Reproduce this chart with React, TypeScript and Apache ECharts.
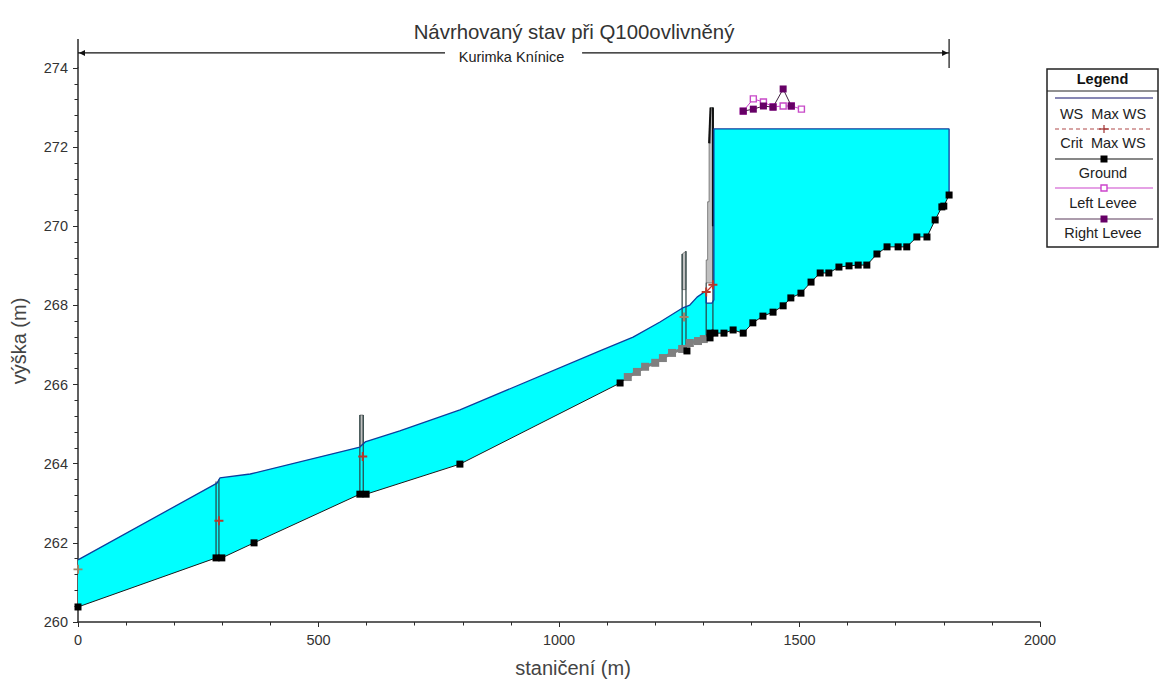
import React, { useEffect, useRef } from "react";
import * as echarts from "echarts";

const titleText = "Návrhovaný stav při Q100ovlivněný";
const reachName = "Kurimka Knínice";
const xAxisName = "staničení (m)";
const yAxisName = "výška (m)";
const legendTitle = "Legend";
const legendNames = ["WS  Max WS", "Crit  Max WS", "Ground", "Left Levee", "Right Levee"];

const groundLower: number[][] = [
  [0, 260.38], [287, 261.62], [299, 261.62], [366, 262.0], [586, 263.23], [599, 263.23], [794, 263.99], [1127, 266.04],
];
const groundGrey: number[][] = [
  [1143, 266.19], [1162, 266.32], [1179, 266.45], [1200, 266.55], [1216, 266.67], [1235, 266.8],
  [1256, 266.9], [1272, 267.05], [1289, 267.1], [1301, 267.15],
];
const groundUpper: number[][] = [
  [1314, 267.18], [1314, 267.3], [1324, 267.3], [1343, 267.3], [1362, 267.38], [1383, 267.3], [1403, 267.56], [1424, 267.73],
  [1445, 267.83], [1466, 267.99], [1482, 268.19], [1503, 268.31], [1524, 268.59], [1543, 268.82],
  [1561, 268.82], [1582, 268.97], [1603, 269.0], [1622, 269.02], [1640, 269.02], [1661, 269.3],
  [1682, 269.48], [1705, 269.48], [1723, 269.48], [1744, 269.73], [1765, 269.73], [1782, 270.16],
  [1796, 270.49], [1800, 270.51], [1811, 270.79],
];
const groundExtra: number[][] = [[1266, 266.85]];
const waterSurface: number[][] = [
  [0, 261.57], [289, 263.51], [295, 263.64], [358, 263.74], [586, 264.42], [597, 264.55], [669, 264.83],
  [794, 265.36], [1085, 266.85], [1154, 267.2], [1210, 267.58], [1256, 267.93], [1272, 268.01],
  [1287, 268.21], [1306, 268.37], [1306, 268.06], [1318, 268.06], [1322, 268.14], [1322, 272.46], [1811, 272.46],
  [1811, 270.79],
];
const critMarks: number[][] = [[293, 262.56], [592, 264.18], [1306, 268.34], [1320, 268.52]];
const critFaded: number[][] = [[0, 261.33], [1260, 267.71]];
const critBridge: number[][] = [[1306, 268.34], [1320, 268.52]];
const leftLevee: number[][] = [
  [1383, 272.91], [1404, 273.22], [1425, 273.14], [1445, 273.02], [1466, 273.04], [1483, 273.04], [1504, 272.96],
];
const rightLevee: number[][] = [
  [1383, 272.91], [1404, 272.96], [1425, 273.04], [1445, 273.01], [1466, 273.47], [1483, 273.04],
];
const bridgeLines: number[][][] = [
  [[287, 261.62], [287, 263.55]], [[293, 261.62], [293, 263.6]],
  [[586, 263.23], [586, 265.23]], [[593, 263.23], [593, 265.23]],
  [[1256, 266.9], [1256, 269.3]], [[1264, 266.9], [1264, 269.37]],
  [[1306, 267.18], [1306, 268.57]], [[1320, 267.3], [1320, 273.0]],
];
const bridgeDarkLines: number[][][] = [[[1320, 270.0], [1320, 273.0]], [[1312, 272.1], [1315, 273.0]]];
const bridgeDecks: number[][][] = [
  [[586, 264.45], [586, 265.23], [593, 265.23], [593, 264.5]],
  [[1256, 268.4], [1256, 269.3], [1264, 269.37], [1264, 268.4]],
  [[1306, 268.57], [1306, 269.15], [1309, 269.15], [1309, 270.62], [1312, 270.62], [1312, 272.1], [1315, 272.1], [1315, 273.0], [1320, 273.0], [1320, 268.57]],
];
const reachLevel = 274.38;
const reachEnds = [0, 1811];
const reachGap = [763, 1048];
const axisTop = 274.73;

const DARK = "#2b2b2b";
const FONT = '"Liberation Sans", Arial, sans-serif';
const WS_COLOR = "#0c3f9e";
const PLUS = "path://M-5,-1.1L-1.1,-1.1L-1.1,-5L1.1,-5L1.1,-1.1L5,-1.1L5,1.1L1.1,1.1L1.1,5L-1.1,5L-1.1,1.1L-5,1.1Z";

function buildLegend() {
  const L = 1047, R = 1158, T = 69, B = 247;
  const x1 = 1055, x2 = 1153, cx = (x1 + x2) / 2;
  const lineY = [98, 129, 159, 188, 219];
  const textY = [114, 143, 173, 203, 233];
  const colors = ["#10106a", "#b04a4a", "#111111", "#cc44cc", "#5a3a5a"];
  const ch: any[] = [
    { type: "rect", shape: { x: L, y: T, width: R - L, height: B - T }, style: { fill: "#fff", stroke: "#222", lineWidth: 1.5 } },
    { type: "line", shape: { x1: L, y1: 91, x2: R, y2: 91 }, style: { stroke: "#222", lineWidth: 1 } },
    { type: "text", style: { text: legendTitle, x: (L + R) / 2, y: 79, align: "center", verticalAlign: "middle", font: `bold 14.5px ${FONT}`, fill: "#111" } },
  ];
  legendNames.forEach((n, i) => {
    ch.push({
      type: "line",
      shape: { x1, y1: lineY[i], x2, y2: lineY[i] },
      style: { stroke: colors[i], lineWidth: 1.2, lineDash: i === 1 ? [4, 3] : undefined },
    });
    ch.push({ type: "text", style: { text: n, x: cx - 1, y: textY[i], align: "center", verticalAlign: "middle", font: `14.5px ${FONT}`, fill: "#222" } });
  });
  ch.push({ type: "line", shape: { x1: cx - 5, y1: 129, x2: cx + 5, y2: 129 }, style: { stroke: "#a03030", lineWidth: 1.2 } });
  ch.push({ type: "line", shape: { x1: cx, y1: 125, x2: cx, y2: 133 }, style: { stroke: "#a03030", lineWidth: 1.2 } });
  ch.push({ type: "rect", shape: { x: cx - 3.5, y: 155.5, width: 7, height: 7 }, style: { fill: "#000" } });
  ch.push({ type: "rect", shape: { x: cx - 3, y: 185, width: 6, height: 6 }, style: { fill: "#fff", stroke: "#cc44cc", lineWidth: 1.4 } });
  ch.push({ type: "rect", shape: { x: cx - 3.5, y: 215.5, width: 7, height: 7 }, style: { fill: "#660066" } });
  return ch;
}

function App() {
  const ref = useRef<HTMLDivElement>(null);
  useEffect(() => {
    document.body.style.margin = "0";
    const chart = echarts.init(ref.current!, undefined, { renderer: "svg" });
    const groundAll = [...groundLower, ...groundGrey, ...groundUpper];
    const poly = (api: any, pts: number[][], style: any) => ({
      type: "polygon",
      shape: { points: pts.map((p) => api.coord(p)) },
      style,
    });
    const seg = (api: any, a: number[], b: number[], style: any) => {
      const p = api.coord(a), q = api.coord(b);
      return { type: "line", shape: { x1: p[0], y1: p[1], x2: q[0], y2: q[1] }, style };
    };
    chart.setOption({
      animation: false,
      backgroundColor: "#fff",
      title: {
        text: titleText, left: 569, top: 17, textAlign: "center",
        textStyle: { fontFamily: FONT, fontSize: 20.4, fontWeight: "normal", color: "#333" },
      },
      grid: { left: 78, right: 119, top: 68, bottom: 58, outerBoundsMode: "none" },
      xAxis: {
        type: "value", min: 0, max: 2000, interval: 500,
        name: xAxisName, nameLocation: "middle", nameGap: 36,
        nameTextStyle: { fontFamily: FONT, fontSize: 20, color: "#444", padding: [0, 0, 0, 28] },
        axisLine: { lineStyle: { color: DARK, width: 1.5 } },
        axisTick: { length: 5, lineStyle: { color: DARK } },
        minorTick: { show: true, splitNumber: 5, length: 3.5, lineStyle: { color: DARK } },
        axisLabel: { fontFamily: FONT, fontSize: 14.5, color: "#333", margin: 10, formatter: (v: number) => String(v) },
        splitLine: { show: false },
      },
      yAxis: {
        type: "value", min: 260, max: 274, interval: 2,
        name: yAxisName, nameLocation: "middle", nameGap: 49,
        nameTextStyle: { fontFamily: FONT, fontSize: 20, color: "#444", padding: [0, 0, 0, 8] },
        axisLine: { lineStyle: { color: DARK, width: 1.5 } },
        axisTick: { length: 5, lineStyle: { color: DARK } },
        minorTick: { show: true, splitNumber: 5, length: 3.5, lineStyle: { color: DARK } },
        axisLabel: { fontFamily: FONT, fontSize: 14.5, color: "#333", margin: 10, formatter: (v: number) => String(v) },
        splitLine: { show: false },
      },
      graphic: buildLegend(),
      series: [
        {
          type: "custom", z: 1, clip: false, silent: true, data: [[0, 260]],
          renderItem: (_p: any, api: any) => ({
            type: "group",
            children: [
              poly(api, [...waterSurface, ...[...groundUpper].reverse(), ...[...groundGrey].reverse(), ...[...groundLower].reverse()], { fill: "#00ffff" }),
            ],
          }),
        },
        {
          type: "custom", z: 4, clip: false, silent: true, data: [[0, 260]],
          renderItem: (_p: any, api: any) => ({
            type: "group",
            children: [
              ...bridgeDecks.map((d) => poly(api, d, { fill: "#c0c0c0", stroke: "#444", lineWidth: 0.6 })),
              ...bridgeLines.map((l) => seg(api, l[0], l[1], { stroke: "#2a4040", lineWidth: 1.2 })),
              ...bridgeDarkLines.map((l) => seg(api, l[0], l[1], { stroke: "#111", lineWidth: 2 })),
            ],
          }),
        },
        {
          type: "custom", z: 6, clip: false, silent: true, data: [[0, 274]],
          renderItem: (_p: any, api: any) => {
            const st = { stroke: "#111", lineWidth: 1.2 };
            const a = api.coord([reachEnds[0], reachLevel]);
            const b = api.coord([reachEnds[1], reachLevel]);
            const mid = api.coord([(reachEnds[0] + reachEnds[1]) / 2, reachLevel]);
            return {
              type: "group",
              children: [
                seg(api, [0, 274], [0, axisTop], { stroke: DARK, lineWidth: 1.5 }),
                seg(api, [reachEnds[0], reachLevel], [reachGap[0], reachLevel], st),
                seg(api, [reachGap[1], reachLevel], [reachEnds[1], reachLevel], st),
                seg(api, [reachEnds[1], 274], [reachEnds[1], axisTop], st),
                { type: "polygon", shape: { points: [[a[0] + 1, a[1]], [a[0] + 7, a[1] - 3], [a[0] + 7, a[1] + 3]] }, style: { fill: "#111" } },
                { type: "polygon", shape: { points: [[b[0] - 1, b[1]], [b[0] - 7, b[1] - 3], [b[0] - 7, b[1] + 3]] }, style: { fill: "#111" } },
                { type: "text", style: { text: reachName, x: mid[0] - 2, y: mid[1] + 4, align: "center", verticalAlign: "middle", font: `14.5px ${FONT}`, fill: "#222" } },
              ],
            };
          },
        },
        {
          name: "Ground", type: "line", z: 3, clip: false, data: groundAll,
          showSymbol: false, symbol: "none",
          lineStyle: { color: "#1a1a1a", width: 1 },
        },
        {
          name: "Ground (grey)", type: "line", z: 5, clip: false, data: groundGrey,
          symbol: "rect", symbolSize: 8, itemStyle: { color: "#808080" },
          lineStyle: { color: "#808080", width: 3 },
        },
        {
          name: "Ground (black)", type: "line", z: 6, clip: false, data: groundLower,
          symbol: "rect", symbolSize: 7, itemStyle: { color: "#000" },
          lineStyle: { width: 0 },
        },
        {
          name: "Ground (black upper)", type: "line", z: 6, clip: false, data: [...groundExtra, ...groundUpper],
          symbol: "rect", symbolSize: 7, itemStyle: { color: "#000" },
          lineStyle: { width: 0 },
        },
        {
          name: "WS Max WS", type: "line", z: 5, clip: false, data: waterSurface,
          symbol: "none", lineStyle: { color: WS_COLOR, width: 1.3 },
        },
        {
          name: "Crit Max WS", type: "line", z: 7, clip: false, data: critMarks,
          symbol: PLUS, symbolSize: 9, itemStyle: { color: "#b8392a" },
          lineStyle: { width: 0 },
        },
        {
          name: "Crit Max WS (faded)", type: "line", z: 7, clip: false, data: critFaded,
          symbol: PLUS, symbolSize: 9, itemStyle: { color: "#a08468" },
          lineStyle: { width: 0 },
        },
        {
          name: "Crit bridge", type: "line", z: 7, clip: false, data: critBridge,
          symbol: "none", lineStyle: { color: "#c8352a", width: 1.3 },
        },
        {
          name: "Left Levee", type: "line", z: 7, clip: false, data: leftLevee,
          symbol: "rect", symbolSize: 6,
          itemStyle: { color: "#fff", borderColor: "#c84ac8", borderWidth: 1.4 },
          lineStyle: { color: "#cc44cc", width: 1 },
        },
        {
          name: "Right Levee", type: "line", z: 8, clip: false, data: rightLevee,
          symbol: "rect", symbolSize: 7, itemStyle: { color: "#660066" },
          lineStyle: { color: "#402040", width: 1 },
        },
      ],
    });
    return () => chart.dispose();
  }, []);
  return <div ref={ref} style={{ width: 1159, height: 680 }} />;
}

export default App;
